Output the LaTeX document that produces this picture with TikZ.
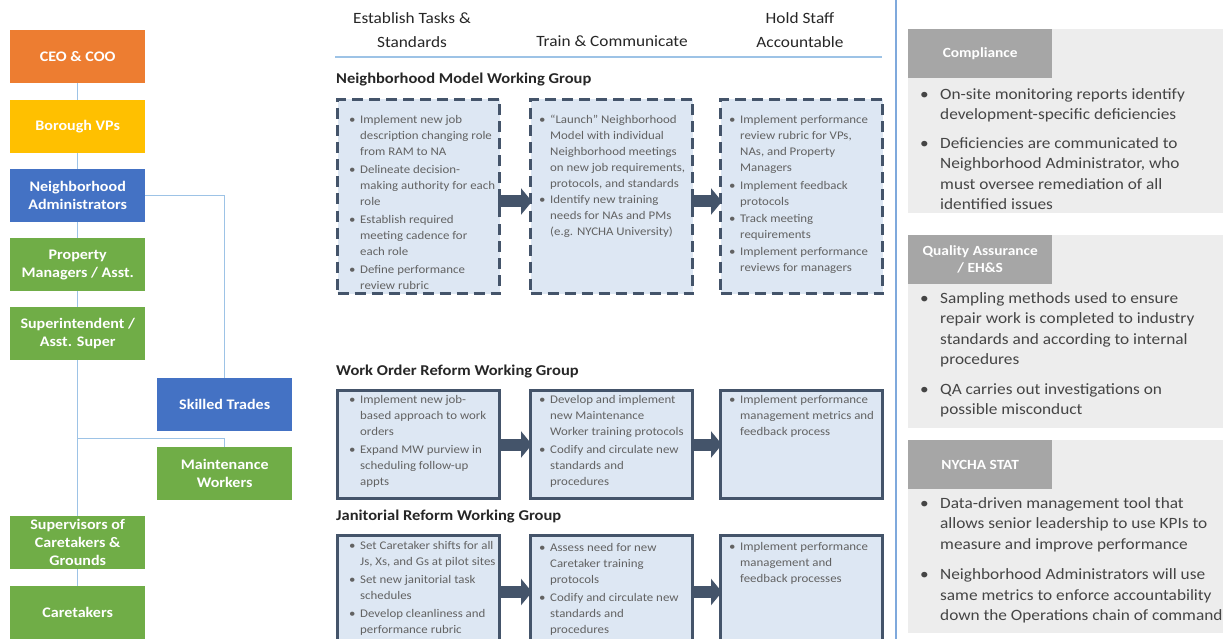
\documentclass[tikz,border=0pt]{standalone}
\usepackage{fontspec}
\setmainfont[FakeStretch=1.1]{Carlito}
\usetikzlibrary{arrows.meta,calc}

\definecolor{execorange}{HTML}{ED7D31}
\definecolor{vpgold}{HTML}{FFC000}
\definecolor{mgrblue}{HTML}{4472C4}
\definecolor{fieldgreen}{HTML}{70AD47}
\definecolor{linkblue}{HTML}{9DC3E6}
\definecolor{railblue}{HTML}{7FA9DC}
\definecolor{slate}{HTML}{44546A}
\definecolor{taskfill}{HTML}{DDE7F3}
\definecolor{bodygray}{HTML}{626262}
\definecolor{panelgray}{HTML}{EDEDED}
\definecolor{tabgray}{HTML}{A6A6A6}
\definecolor{panelink}{HTML}{454545}
\definecolor{headink}{HTML}{262626}

% bullet with hanging indent
\newcommand\bi{\makebox[11pt][l]{\textbullet}}
\newcommand\ci{\hspace*{11pt}}
\newcommand\pbi{\makebox[20pt][l]{\textbullet}}
\newcommand\pci{\hspace*{20pt}}

\tikzset{
  org/.style={fill=#1, minimum width=135pt, minimum height=53pt, inner sep=0pt,
    anchor=north west, text=white, align=center,
    font=\fontsize{14.6}{18}\selectfont\bfseries},
  link/.style={draw=linkblue, line width=1.5pt},
  taskbox/.style={draw=slate, line width=3pt, fill=taskfill, inner sep=0pt,
    anchor=north west, minimum width=162pt},
  planbox/.style={taskbox, dash pattern=on 11pt off 6pt},
  items/.style={anchor=north west, inner sep=0pt, align=left, text=bodygray,
    font=\fontsize{11.7}{16}\selectfont},
  flow/.style={draw=slate, line width=12pt, -{Triangle[width=26pt,length=11pt]}},
  colhead/.style={align=center, text=headink, inner sep=0pt,
    font=\fontsize{15.7}{24}\selectfont},
  grouptitle/.style={anchor=west, inner sep=0pt, text=headink,
    font=\fontsize{15}{17}\selectfont\bfseries},
  panel/.style={fill=panelgray, minimum width=315pt, inner sep=0pt, anchor=north west},
  tab/.style={fill=tabgray, minimum width=144pt, minimum height=49pt, inner sep=0pt,
    anchor=north west, text=white, align=center,
    font=\fontsize{14}{17}\selectfont\bfseries},
  notes/.style={anchor=north west, inner sep=0pt, align=left, text=panelink,
    font=\fontsize{15.7}{20.5}\selectfont}
}

\begin{document}
\begin{tikzpicture}[x=1pt,y=-1pt]
\useasboundingbox (0,0) rectangle (1231,639);

% ---------- organisation chart ----------
\node[org=execorange] (ceo) at (10,30) {CEO \& COO};
\node[org=vpgold] (vps) at (10,100) {Borough VPs};
\node[org=mgrblue] (na) at (10,169) {Neighborhood\\Administrators};
\node[org=fieldgreen] (pm) at (10,238) {Property\\Managers / Asst.};
\node[org=fieldgreen] (sup) at (10,307) {Superintendent /\\Asst. Super};
\node[org=mgrblue] (st) at (157,378) {Skilled Trades};
\node[org=fieldgreen] (mw) at (157,447) {Maintenance\\Workers};
\node[org=fieldgreen] (soc) at (10,516) {Supervisors of\\Caretakers \&\\Grounds};
\node[org=fieldgreen] (ct) at (10,586) {Caretakers};

\coordinate (split) at ($(sup.south)+(0,78)$);
\draw[link] (ceo.south) -- (vps.north);
\draw[link] (vps.south) -- (na.north);
\draw[link] (na.south) -- (pm.north);
\draw[link] (pm.south) -- (sup.north);
\draw[link] (sup.south) -- (soc.north);
\draw[link] (soc.south) -- (ct.north);
\draw[link] (na.east) -| (st.north);
\draw[link] (split) -| (mw.north);

% ---------- column headings ----------
\node[colhead] (h1) at (412,30) {Establish Tasks \&\\Standards};
\node[colhead, anchor=base] (h2) at (612,47) {Train \& Communicate};
\node[colhead] (h3) at (800,30) {Hold Staff\\Accountable};
\coordinate (ruleL) at (335,57);
\coordinate (ruleR) at (882,57);
\draw[link] (ruleL) -- (ruleR);

% ---------- Neighborhood Model ----------
\node[grouptitle] (g1) at (336,80) {Neighborhood Model Working Group};
\node[planbox, minimum height=194pt] (r1a) at (336,98) {};
\node[planbox, minimum height=194pt] (r1b) at (529,98) {};
\node[planbox, minimum height=194pt] (r1c) at (719,98) {};
\draw[flow] ($(r1a.east)+(-3,5)$) -- ($(r1b.west)+(3,5)$);
\draw[flow] ($(r1b.east)+(-3,5)$) -- ($(r1c.west)+(3,5)$);
\node[items] (t1a) at (349,115) {\bi Implement new job\\\ci description changing role\\\ci from RAM to NA\\[2pt]
  \bi Delineate decision-\\\ci making authority for each\\\ci role\\[2pt]
  \bi Establish required\\\ci meeting cadence for\\\ci each role\\[2pt]
  \bi Define performance\\\ci review rubric};
\node[items] (t1b) at (539,115) {\bi “Launch” Neighborhood\\\ci Model with individual\\\ci Neighborhood meetings\\\ci on new job requirements,\\\ci protocols, and standards\\
  \bi Identify new training\\\ci needs for NAs and PMs\\\ci (e.g. NYCHA University)};
\node[items] (t1c) at (729,115) {\bi Implement performance\\\ci review rubric for VPs,\\\ci NAs, and Property\\\ci Managers\\[2pt]
  \bi Implement feedback\\\ci protocols\\[1pt]
  \bi Track meeting\\\ci requirements\\[1pt]
  \bi Implement performance\\\ci reviews for managers};

% ---------- Work Order Reform ----------
\node[grouptitle] (g2) at (336,372) {Work Order Reform Working Group};
\node[taskbox, minimum height=108pt] (r2a) at (336,389) {};
\node[taskbox, minimum height=108pt] (r2b) at (529,389) {};
\node[taskbox, minimum height=108pt] (r2c) at (719,389) {};
\draw[flow] ($(r2a.east)+(-3,0)$) -- ($(r2b.west)+(3,0)$);
\draw[flow] ($(r2b.east)+(-3,0)$) -- ($(r2c.west)+(3,0)$);
\node[items] (t2a) at (349,395) {\bi Implement new job-\\\ci based approach to work\\\ci orders\\[2pt]
  \bi Expand MW purview in\\\ci scheduling follow-up\\\ci appts};
\node[items] (t2b) at (539,395) {\bi Develop and implement\\\ci new Maintenance\\\ci Worker training protocols\\[2pt]
  \bi Codify and circulate new\\\ci standards and\\\ci procedures};
\node[items] (t2c) at (729,395) {\bi Implement performance\\\ci management metrics and\\\ci feedback process};

% ---------- Janitorial Reform ----------
\node[grouptitle] (g3) at (336,517) {Janitorial Reform Working Group};
\node[taskbox, minimum height=105pt] (r3a) at (336,534) {};
\node[taskbox, minimum height=105pt] (r3b) at (529,534) {};
\node[taskbox, minimum height=105pt] (r3c) at (719,534) {};
\draw[flow] ($(r3a.east)+(-3,4)$) -- ($(r3b.west)+(3,4)$);
\draw[flow] ($(r3b.east)+(-3,4)$) -- ($(r3c.west)+(3,4)$);
\node[items] (t3a) at (349,541) {\bi Set Caretaker shifts for all\\\ci Js, Xs, and Gs at pilot sites\\[2pt]
  \bi Set new janitorial task\\\ci schedules\\[2pt]
  \bi Develop cleanliness  and\\\ci performance rubric};
\node[items] (t3b) at (539,543) {\bi Assess need for new\\\ci Caretaker training\\\ci protocols\\[2pt]
  \bi Codify and circulate new\\\ci standards and\\\ci procedures};
\node[items] (t3c) at (729,542) {\bi Implement performance\\\ci management and\\\ci feedback processes};

% ---------- oversight panels ----------
\coordinate (railT) at (896,0);
\coordinate (railB) at (896,639);
\draw[draw=railblue, line width=2pt] (railT) -- (railB);

\node[panel, minimum height=184pt] (p1) at (908,29) {};
\node[tab] (k1) at (908,29) {Compliance};
\node[notes] (n1) at (920,88) {\pbi On-site monitoring reports identify\\\pci development-specific deficiencies\\[8pt]
  \pbi Deficiencies are communicated to\\\pci Neighborhood Administrator, who\\\pci must oversee remediation of all\\\pci identified issues};

\node[panel, minimum height=193pt] (p2) at (908,235) {};
\node[tab] (k2) at (908,235) {Quality Assurance\\/ EH\&S};
\node[notes] (n2) at (920,292) {\pbi Sampling methods used to ensure\\\pci repair work is completed to industry\\\pci standards and according to internal\\\pci procedures\\[9pt]
  \pbi QA carries out investigations on\\\pci possible misconduct};

\node[panel, minimum height=193pt] (p3) at (908,440) {};
\node[tab] (k3) at (908,440) {NYCHA STAT};
\node[notes] (n3) at (920,497) {\pbi Data-driven management tool that\\\pci allows senior leadership to use KPIs to\\\pci measure and improve performance\\[10pt]
  \pbi Neighborhood Administrators will use\\\pci same metrics to enforce accountability\\\pci down the Operations chain of command};
\end{tikzpicture}
\end{document}
